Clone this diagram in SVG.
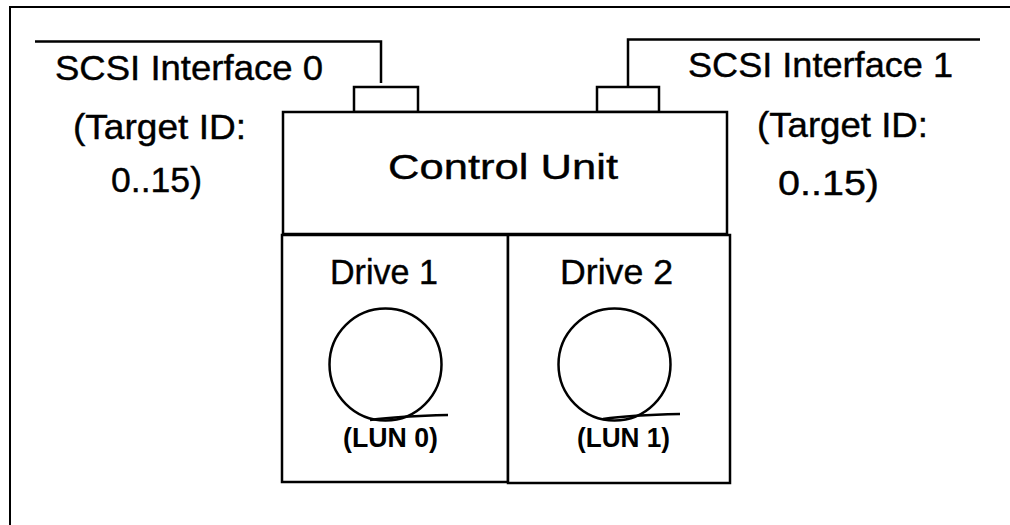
<svg xmlns="http://www.w3.org/2000/svg" width="1010" height="525" viewBox="0 0 1010 525">
<style>
.t{font-family:"Liberation Sans",Arial,sans-serif;font-size:35px;fill:#000;stroke:#000;stroke-width:0.4}
.b{font-family:"Liberation Sans",Arial,sans-serif;font-size:27px;font-weight:bold;fill:#000}
.s{fill:none;stroke:#000;stroke-width:2.5}
.w{fill:#fff;stroke:#000;stroke-width:2.5}
</style>
<rect width="1010" height="525" fill="#fff"/>
<g id="frame"><path d="M10 525 V7 H1010" fill="none" stroke="#000" stroke-width="2"/></g>
<g id="connectors">
<path class="s" d="M35 41.5 H381 V83"/>
<path class="s" d="M980 39.5 H628 V87"/>
</g>
<g id="iface0">
<text class="t" x="55" y="80" textLength="268" lengthAdjust="spacingAndGlyphs">SCSI Interface 0</text>
<text class="t" x="73" y="139" textLength="173" lengthAdjust="spacingAndGlyphs">(Target ID:</text>
<text class="t" x="111" y="192" textLength="91" lengthAdjust="spacingAndGlyphs">0..15)</text>
</g>
<g id="iface1">
<text class="t" x="688" y="77" textLength="265" lengthAdjust="spacingAndGlyphs">SCSI Interface 1</text>
<text class="t" x="757" y="137" textLength="171" lengthAdjust="spacingAndGlyphs">(Target ID:</text>
<text class="t" x="778" y="195" textLength="101" lengthAdjust="spacingAndGlyphs">0..15)</text>
</g>
<g id="port0"><rect class="w" x="354" y="87" width="64" height="25"/></g>
<g id="port1"><rect class="w" x="597" y="87" width="62" height="25"/></g>
<g id="control-unit">
<rect class="w" x="283" y="112" width="444" height="122"/>
<text class="t" x="388" y="179" font-size="40" textLength="230" lengthAdjust="spacingAndGlyphs">Control Unit</text>
</g>
<g id="drive1">
<rect class="w" x="282" y="235" width="226" height="247" stroke-width="3"/>
<text class="t" x="330" y="284" textLength="108" lengthAdjust="spacingAndGlyphs">Drive 1</text>
<circle class="s" cx="385.5" cy="364.5" r="56"/>
<path class="s" d="M370 420 Q400 416 448 415"/>
<text class="b" x="343" y="447" textLength="95" lengthAdjust="spacingAndGlyphs">(LUN 0)</text>
</g>
<g id="drive2">
<rect class="w" x="508" y="235" width="222" height="248" stroke-width="3"/>
<text class="t" x="560" y="284" textLength="113" lengthAdjust="spacingAndGlyphs">Drive 2</text>
<circle class="s" cx="614.5" cy="364.5" r="56"/>
<path class="s" d="M603 419 Q630 415 680 414"/>
<text class="b" x="577" y="447" textLength="93" lengthAdjust="spacingAndGlyphs">(LUN 1)</text>
</g>
</svg>
